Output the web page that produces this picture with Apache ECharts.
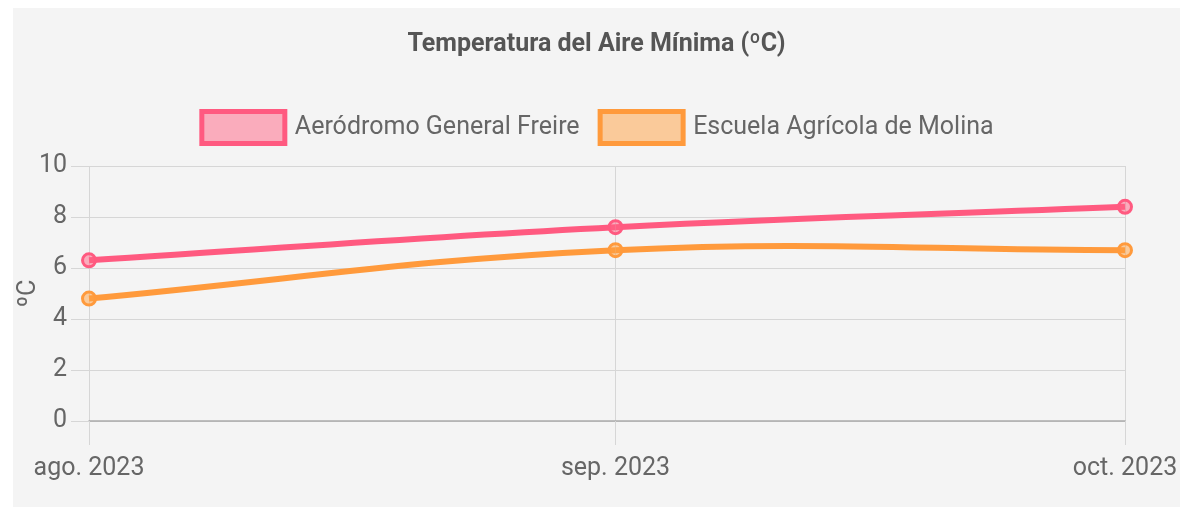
<!DOCTYPE html>
<html>
<head>
<meta charset="utf-8">
<script src="https://cdn.jsdelivr.net/npm/echarts@6/dist/echarts.min.js"></script>
<style>
html,body{margin:0;padding:0;background:#ffffff;width:1191px;height:507px;overflow:hidden;}
#chart{position:absolute;left:13px;top:8px;width:1167px;height:499px;background:#f4f4f4;}
</style>
</head>
<body>
<div id="chart"></div>
<script>
const titleText = 'Temperatura del Aire Mínima (ºC)';
const dates = ['2023-08-01', '2023-09-01', '2023-10-01'];
const categories = ['ago. 2023', 'sep. 2023', 'oct. 2023'];
const seriesNames = ['Aeródromo General Freire', 'Escuela Agrícola de Molina'];
const aerodromo = [6.3, 7.6, 8.4];
const escuela = [4.8, 6.7, 6.7];
const yTicks = [0, 2, 4, 6, 8, 10];

const pink = '#ff5a80';
const orange = '#ff9a3c';
const pinkFill = 'rgba(255,99,132,0.5)';
const orangeFill = 'rgba(255,159,64,0.5)';
const FONT = 'Roboto';
const TENSION = 0.4;

const dateTimes = dates.map(d => Date.UTC(+d.slice(0, 4), +d.slice(5, 7) - 1, +d.slice(8, 10)));
function labelFor(v) {
  const i = dateTimes.indexOf(v);
  return i >= 0 ? categories[i] : '';
}

// Chart.js-like spline drawn through the library's own coordinate system
function splineRenderer(values, color) {
  return function (params, api) {
    const i = params.dataIndex;
    if (i >= values.length - 1) return null;
    const pts = values.map((v, k) => api.coord([dateTimes[k], v]));
    function ctrl(k) {
      const prev = pts[Math.max(k - 1, 0)];
      const cur = pts[k];
      const next = pts[Math.min(k + 1, pts.length - 1)];
      const d01 = Math.hypot(cur[0] - prev[0], cur[1] - prev[1]);
      const d12 = Math.hypot(next[0] - cur[0], next[1] - cur[1]);
      const tot = d01 + d12 || 1;
      const fa = TENSION * d01 / tot, fb = TENSION * d12 / tot;
      return {
        prev: [cur[0] - fa * (next[0] - prev[0]), cur[1] - fa * (next[1] - prev[1])],
        next: [cur[0] + fb * (next[0] - prev[0]), cur[1] + fb * (next[1] - prev[1])]
      };
    }
    const a = pts[i], b = pts[i + 1];
    const ca = ctrl(i), cb = ctrl(i + 1);
    return {
      type: 'bezierCurve',
      shape: {
        x1: a[0], y1: a[1], x2: b[0], y2: b[1],
        cpx1: ca.next[0], cpy1: ca.next[1], cpx2: cb.prev[0], cpy2: cb.prev[1]
      },
      style: {stroke: color, lineWidth: 6, fill: null, lineCap: 'butt'},
      silent: true
    };
  };
}

const chart = echarts.init(document.getElementById('chart'), null, {renderer: 'canvas'});
chart.setOption({
  animation: false,
  backgroundColor: '#f4f4f4',
  title: {
    text: titleText,
    left: 'center',
    top: 19,
    textStyle: {fontFamily: FONT, fontSize: 25, fontWeight: 'bold', color: '#555555'}
  },
  legend: {
    top: 96,
    left: 'center',
    itemWidth: 83,
    itemHeight: 32,
    itemGap: 18,
    icon: 'rect',
    textStyle: {fontFamily: FONT, fontSize: 25, color: '#666666', padding: [0, 0, 0, 5]},
    data: [
      {name: seriesNames[0], itemStyle: {color: pinkFill, borderColor: pink, borderWidth: 5}},
      {name: seriesNames[1], itemStyle: {color: orangeFill, borderColor: orange, borderWidth: 5}}
    ]
  },
  grid: {left: 76, right: 55, top: 158, bottom: 86, containLabel: false, outerBoundsMode: 'none'},
  xAxis: {
    type: 'value',
    min: dateTimes[0],
    max: dateTimes[dateTimes.length - 1],
    axisLine: {show: true, lineStyle: {color: '#aaaaaa', width: 1.5}},
    axisTick: {show: true, length: 24, customValues: dateTimes, lineStyle: {color: '#d6d6d6'}},
    axisLabel: {
      margin: 35, fontFamily: FONT, fontSize: 25, color: '#666666',
      customValues: dateTimes,
      formatter: v => labelFor(v),
      showMinLabel: true, showMaxLabel: true, hideOverlap: false
    },
    splitLine: {show: true, lineStyle: {color: '#d6d6d6', width: 1}}
  },
  yAxis: {
    type: 'value',
    min: 0,
    max: 10,
    interval: 2,
    name: 'ºC',
    nameLocation: 'middle',
    nameGap: 48,
    nameMoveOverlap: false,
    nameRotate: 90,
    nameTextStyle: {fontFamily: FONT, fontSize: 25, color: '#666666'},
    axisLine: {show: false},
    axisTick: {show: true, length: 18, lineStyle: {color: '#d6d6d6'}},
    axisLabel: {
      margin: 22, fontFamily: FONT, fontSize: 25, color: '#666666',
      formatter: v => (yTicks.indexOf(v) >= 0 ? String(v) : '')
    },
    splitLine: {show: true, lineStyle: {color: '#d6d6d6', width: 1}}
  },
  series: [
    {
      name: seriesNames[0],
      type: 'custom',
      data: aerodromo.map((v, i) => [dateTimes[i], v]),
      encode: {x: 0, y: 1},
      renderItem: splineRenderer(aerodromo, pink),
      itemStyle: {color: pinkFill},
      z: 3
    },
    {
      name: seriesNames[1],
      type: 'custom',
      data: escuela.map((v, i) => [dateTimes[i], v]),
      encode: {x: 0, y: 1},
      renderItem: splineRenderer(escuela, orange),
      itemStyle: {color: orangeFill},
      z: 2
    },
    {
      name: seriesNames[0],
      type: 'line',
      data: aerodromo.map((v, i) => [dateTimes[i], v]),
      symbol: 'circle',
      symbolSize: 13,
      lineStyle: {width: 0, opacity: 0},
      itemStyle: {color: pinkFill, borderColor: pink, borderWidth: 3},
      z: 4
    },
    {
      name: seriesNames[1],
      type: 'line',
      data: escuela.map((v, i) => [dateTimes[i], v]),
      symbol: 'circle',
      symbolSize: 13,
      lineStyle: {width: 0, opacity: 0},
      itemStyle: {color: orangeFill, borderColor: orange, borderWidth: 3},
      z: 4
    }
  ]
});
</script>
</body>
</html>
